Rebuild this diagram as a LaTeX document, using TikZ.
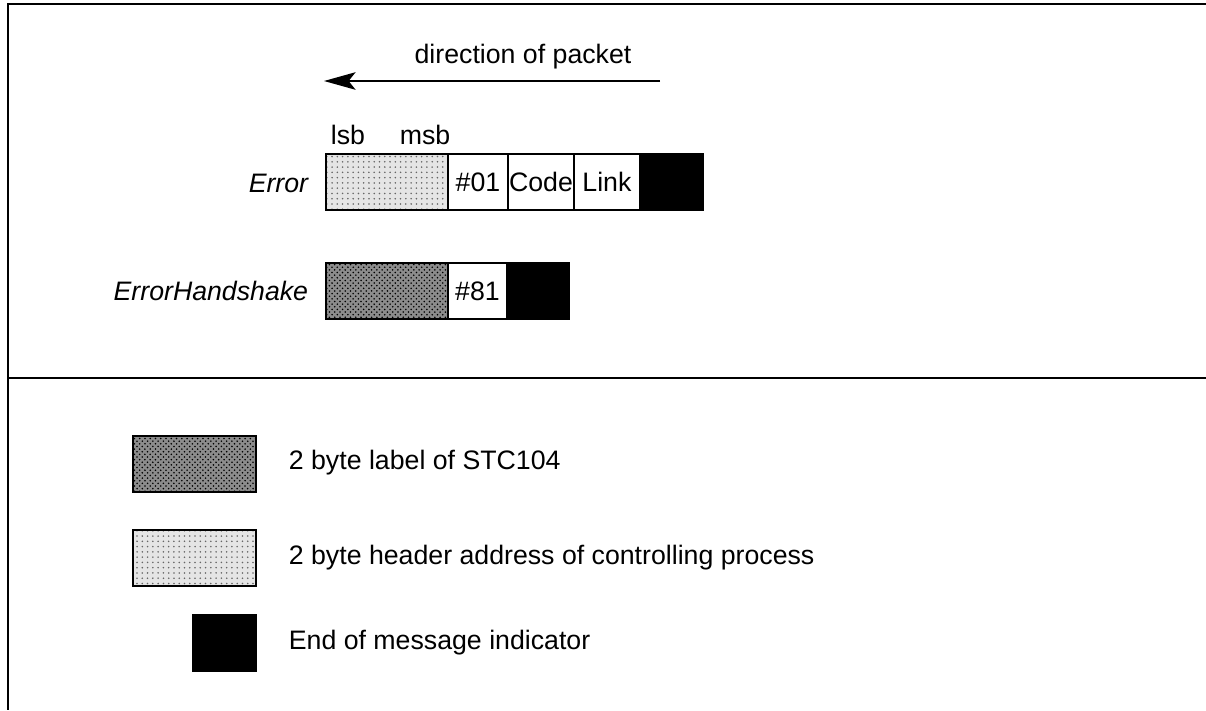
\documentclass[tikz,border=0pt]{standalone}
\usepackage{fontspec}
\setmainfont{Liberation Sans}
\usetikzlibrary{positioning,patterns,arrows.meta}
\begin{document}
\begin{tikzpicture}[x=0.02cm,y=-0.02cm,line width=1pt,font=\fontsize{15.2}{18}\selectfont,
cell/.style={draw,minimum height=1.12cm,inner sep=0pt,outer sep=0pt,anchor=west},
hdr/.style={cell,preaction={fill=black!10},pattern=dots,pattern color=black!60},
lbl/.style={cell,preaction={fill=black!45},pattern=crosshatch dots},
eom/.style={cell,fill=black},
txt/.style={inner sep=0pt}]
\useasboundingbox(0,0)rectangle(1206,710);
%frame
\draw[line width=1.4pt](1206,4)--(8,4)--(8,710);
\draw[line width=1.4pt](8,378)--(1206,378);
%direction
\node[txt](dir)at(523,57){direction of packet};
\coordinate(tail)at(660,81);
\coordinate(head)at(324,81);
\draw[line width=0.8pt,-{Stealth[length=18pt,width=10pt,inset=4pt]}](tail)--(head);
\node[txt](lsb)at(348,135){lsb};
\node[txt](msb)at(425,135){msb};
%Error
\node[txt,anchor=east](err)at(309,183){\itshape Error};
\node[hdr,minimum width=2.44cm](eh)at(326,182){};
\node[cell,minimum width=1.2cm,right=0pt of eh](e01){\raisebox{-3pt}{\#01}};
\node[cell,minimum width=1.32cm,right=0pt of e01](ecode){\raisebox{-3pt}{Code}};
\node[cell,minimum width=1.32cm,right=0pt of ecode](elink){\raisebox{-3pt}{Link}};
\node[eom,minimum width=1.26cm,right=0pt of elink](eend){};
%ErrorHandshake
\node[txt,anchor=east](hs)at(309,291){\itshape ErrorHandshake};
\node[lbl,minimum width=2.44cm](hl)at(326,291){};
\node[cell,minimum width=1.18cm,right=0pt of hl](h81){\raisebox{-3pt}{\#81}};
\node[eom,minimum width=1.24cm,right=0pt of h81](hend){};
%key
\node[lbl,minimum width=2.46cm](klbl)at(133,464){};
\node[txt,anchor=west](tlbl)at(288,463){2 byte label of STC104};
\node[hdr,minimum width=2.46cm](khdr)at(133,558){};
\node[txt,anchor=west](thdr)at(288,558){2 byte header address of controlling process};
\node[eom,minimum width=1.26cm](kend)at(193,643){};
\node[txt,anchor=west](tend)at(288,643){End of message indicator};
\end{tikzpicture}
\end{document}
